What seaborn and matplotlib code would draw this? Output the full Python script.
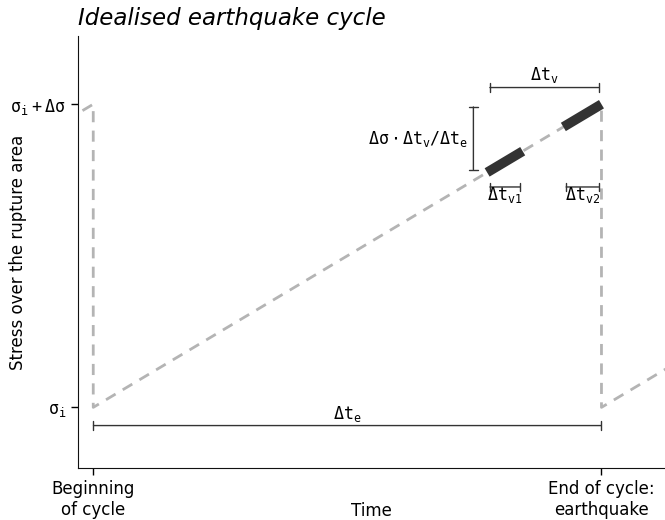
import matplotlib
matplotlib.use("Agg")
import matplotlib.pyplot as plt
import seaborn as sns
import pandas as pd

# Data
cycle_time = [-1, 0, 0, 1, 1, 2]
cycle_stress = [0, 1, 0, 1, 0, 1]
window1 = [0.775, 0.845]
window2 = [0.925, 1.0]
window_all = [0.775, 1.0]
tick_x = [0, 1]
tick_x_labels = ["Beginning\nof cycle", "End of cycle:\nearthquake"]
tick_y = [0, 1]
tick_y_labels = [r"$\sigma_i$", r"$\sigma_i\,+\,\Delta\sigma$"]

sns.set_style("ticks")
plt.rcParams['font.family'] = ['DejaVu Sans']
plt.rcParams['mathtext.fontset'] = 'custom'
plt.rcParams['mathtext.rm'] = 'DejaVu Sans Mono'
plt.rcParams['mathtext.it'] = 'DejaVu Sans Mono'
plt.rcParams['mathtext.bf'] = 'DejaVu Sans Mono:bold'
plt.rcParams['text.color'] = 'black'
plt.rcParams['axes.labelcolor'] = 'black'
plt.rcParams['xtick.color'] = 'black'
plt.rcParams['ytick.color'] = 'black'

fig = plt.figure(figsize=(6.65, 5.2), dpi=100)
ax = fig.add_axes([78/665, 52/520, 587/665, 432/520])

df = pd.DataFrame({"t": cycle_time, "s": cycle_stress})
sns.lineplot(data=df, x="t", y="s", sort=False, estimator=None, ax=ax,
             color="#b4b4b4", lw=2, linestyle=(0, (4, 3)))

for w in (window1, window2):
    wdf = pd.DataFrame({"t": w, "s": w})
    sns.lineplot(data=wdf, x="t", y="s", sort=False, estimator=None, ax=ax,
                 color="#333333", lw=7, solid_capstyle="butt")

ax.set_xlim(-0.03, 1.125)
ax.set_ylim(-0.2, 1.225)

fs = 12
arr = dict(arrowstyle="|-|", color="#333333", lw=1, mutation_scale=3,
           shrinkA=2, shrinkB=2)

# Δt_v bracket
ax.annotate("", xy=(window_all[0], 1.055), xytext=(window_all[1], 1.055), arrowprops=arr)
ax.text(sum(window_all)/2, 1.065, r"$\Delta t_v$", fontsize=fs, ha="center", va="bottom")
# vertical stress bracket
ax.annotate("", xy=(0.748, window_all[0]), xytext=(0.748, 1.0), arrowprops=arr)
ax.text(0.738, 0.885, r"$\Delta\sigma \cdot \Delta t_v/\Delta t_e$", fontsize=fs,
        ha="right", va="center")
# small windows
for w, lab in ((window1, r"$\Delta t_{v1}$"), (window2, r"$\Delta t_{v2}$")):
    ax.annotate("", xy=(w[0], 0.727), xytext=(w[1], 0.727), arrowprops=arr)
    ax.text(sum(w)/2, 0.735, lab, fontsize=fs, ha="center", va="top")
# Δt_e bracket
ax.annotate("", xy=(-0.005, -0.06), xytext=(1.005, -0.06), arrowprops=arr)
ax.text(0.5, -0.055, r"$\Delta t_e$", fontsize=fs, ha="center", va="bottom")

ax.set_xticks(tick_x)
ax.set_xticklabels(tick_x_labels, fontsize=fs)
ax.set_yticks(tick_y)
ax.set_yticklabels(tick_y_labels, fontsize=fs)
ax.set_xlabel("Time", fontsize=fs)
ax.xaxis.set_label_coords(0.5, -0.1)
ax.xaxis.label.set_va("center")
ax.set_ylabel("Stress over the rupture area", fontsize=fs)
ax.yaxis.set_label_coords(-0.087, 0.5)
ax.set_title("Idealised earthquake cycle", loc="left", fontsize=16.5, style="italic", pad=8)
sns.despine(ax=ax)
ax.tick_params(length=5, width=1)
for s in ax.spines.values():
    s.set_color("#111111")

fig.savefig("out.png", dpi=100)
